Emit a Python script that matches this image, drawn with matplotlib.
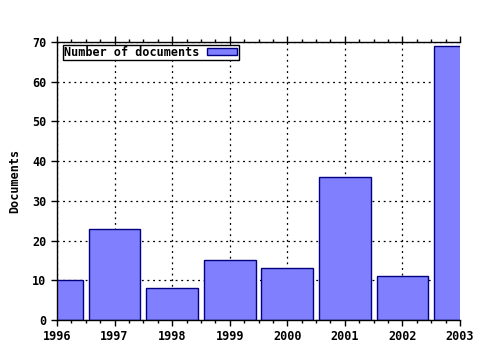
import matplotlib
matplotlib.use("Agg")
import matplotlib.pyplot as plt
from matplotlib.ticker import MultipleLocator

years = [1996, 1997, 1998, 1999, 2000, 2001, 2002, 2003]
documents = [10, 23, 8, 15, 13, 36, 11, 69]
yticks = [0, 10, 20, 30, 40, 50, 60, 70]

plt.rcParams['font.family'] = ['DejaVu Sans Mono']
plt.rcParams['font.weight'] = 'bold'

fig = plt.figure(figsize=(4.8, 3.5), dpi=100)
ax = fig.add_axes([57/480, 30/350, (460-57)/480, (320-42)/350])

ax.bar(years, documents, width=0.9, color='#8080ff', edgecolor='#000080',
       linewidth=1, label='Number of documents', zorder=3)

ax.set_xlim(1996, 2003)
ax.set_ylim(0, 70)
ax.set_xticks(years)
ax.set_xticklabels([str(y) for y in years], fontsize=8.5, fontweight='bold')
ax.set_yticks(yticks)
ax.set_yticklabels([str(v) for v in yticks], fontsize=8.5, fontweight='bold')
ax.xaxis.set_minor_locator(MultipleLocator(0.25))
ax.tick_params(axis='x', which='both', top=True, bottom=True, direction='out')
ax.tick_params(axis='x', which='major', length=4, width=1)
ax.tick_params(axis='x', which='minor', length=2.5, width=1)
ax.tick_params(axis='y', which='major', length=4, width=1, direction='out')
ax.grid(True, which='major', color='black', linestyle=(0, (1.5, 3)), linewidth=0.9, zorder=1)
ax.set_axisbelow(True)

ax.spines['right'].set_visible(False)
for s in ['left', 'bottom', 'top']:
    ax.spines[s].set_linewidth(1)
    ax.spines[s].set_zorder(4)

ax.set_ylabel('Documents', fontsize=8.5, fontweight='bold', labelpad=8)

leg = ax.legend(loc='upper left', bbox_to_anchor=(0.015, 0.99), markerfirst=False,
                fancybox=False, framealpha=1, edgecolor='black', fontsize=8.5,
                handlelength=2.6, handleheight=0.5, borderpad=0.1, handletextpad=0.6,
                borderaxespad=0)
leg.get_frame().set_linewidth(1)
leg.set_zorder(5)

fig.savefig('out.png', dpi=100)
